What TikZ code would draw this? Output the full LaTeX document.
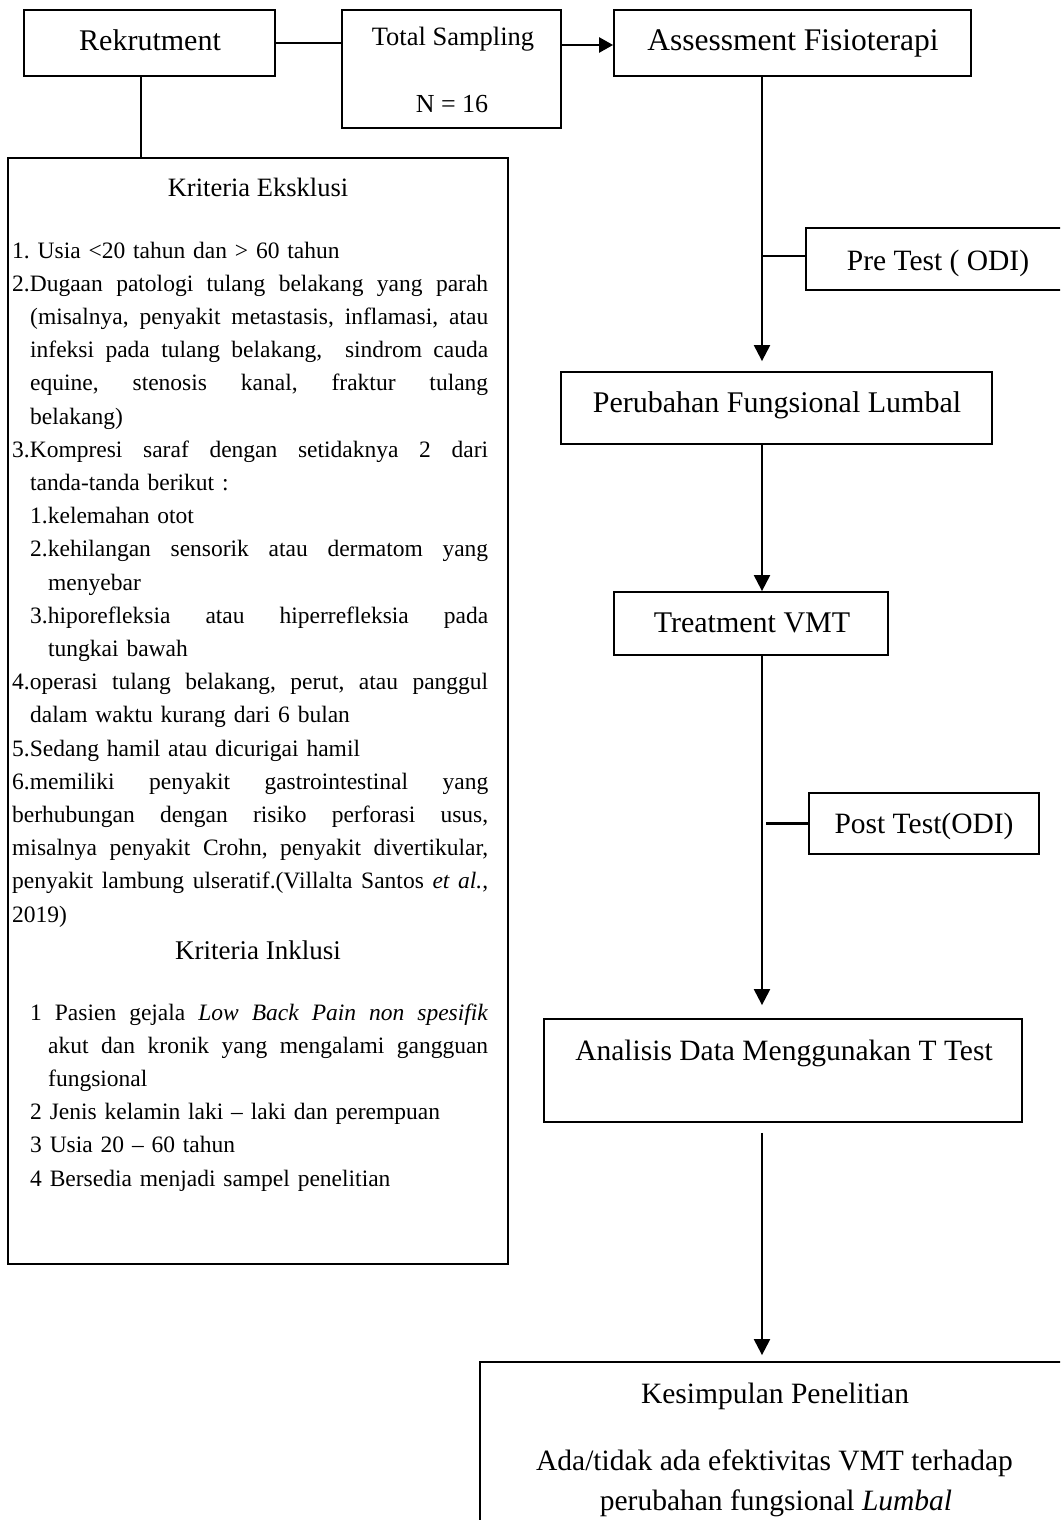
\documentclass[tikz,border=0pt]{standalone}
\usepackage{fontspec}
\setmainfont{Liberation Serif}
\usetikzlibrary{arrows.meta}
\newlength\listw
\newcommand\jl[2]{\hspace*{#1}\hbox to \dimexpr\listw-#1\relax{\spaceskip=0.25em plus 1fil\relax\xspaceskip=\spaceskip #2}}
\newcommand\rl[2]{\hspace*{#1}#2}
\tikzset{
  box/.style={draw, line width=1.8pt, inner sep=0pt},
  lbl/.style={inner sep=0pt, anchor=base, font=\fontsize{29.5pt}{34pt}\selectfont},
  body/.style={inner sep=0pt, anchor=base west, align=left, font=\frenchspacing\fontsize{23.5pt}{33.2pt}\selectfont},
  conn/.style={line width=2.2pt},
  arr/.style={conn, -{Triangle[width=16pt,length=16pt]}},
  toparr/.style={line width=2.4pt, -{Triangle[width=15pt,length=14pt]}}
}
\begin{document}
\begin{tikzpicture}[x=1pt, y=-1pt]
\useasboundingbox (0,0) rectangle (1060,1520);
\clip (0,0) rectangle (1060,1520);
% boxes
\node[box, minimum width=251pt, minimum height=66pt] (rek) at (149.5,43) {};
\node[box, minimum width=219pt, minimum height=118pt] (tot) at (451.5,69) {};
\node[box, minimum width=357pt, minimum height=66pt] (ass) at (792.5,43) {};
\node[box, minimum width=500pt, minimum height=1106pt] (eks) at (258,711) {};
\node[box, minimum width=270pt, minimum height=62pt] (pre) at (941,259) {};
\node[box, minimum width=431pt, minimum height=72pt] (per) at (776.5,408) {};
\node[box, minimum width=274pt, minimum height=63pt] (trt) at (751,623.5) {};
\node[box, minimum width=230pt, minimum height=61pt] (post) at (924,823.5) {};
\node[box, minimum width=478pt, minimum height=103pt] (ana) at (783,1070.5) {};
\node[box, minimum width=600pt, minimum height=180pt] (kes) at (780,1452) {};
% labels
\node[lbl, font=\fontsize{30pt}{34pt}\selectfont] (trek) at (150,51) {Rekrutment};
\node[lbl, font=\fontsize{26.5pt}{30pt}\selectfont] (ttot) at (453,46) {Total Sampling};
\node[lbl, font=\fontsize{26pt}{30pt}\selectfont] (tn) at (452,112) {N = 16};
\node[lbl, font=\fontsize{31.5pt}{36pt}\selectfont] (tass) at (793,51) {Assessment Fisioterapi};
\node[lbl, font=\fontsize{26.5pt}{30pt}\selectfont] (tke) at (258,196) {Kriteria Eksklusi};
\node[lbl, font=\fontsize{27pt}{30pt}\selectfont] (tki) at (258,959) {Kriteria Inklusi};
\node[lbl] (tpre) at (938,270) {Pre Test ( ODI)};
\node[lbl, font=\fontsize{30pt}{34pt}\selectfont] (tper) at (777,412) {Perubahan Fungsional Lumbal};
\node[lbl, font=\fontsize{30pt}{34pt}\selectfont] (ttrt) at (752,632) {Treatment VMT};
\node[lbl] (tpost) at (924,833) {Post Test(ODI)};
\node[lbl] (tana) at (784,1060) {Analisis Data Menggunakan T Test};
\node[lbl] (tkes) at (775,1403) {Kesimpulan Penelitian};
\node[lbl] (tkes2) at (774.5,1470) {Ada/tidak ada efektivitas VMT terhadap};
\node[lbl] (tkes3) at (776,1510) {perubahan fungsional \textit{Lumbal}};
% exclusion list
\node[body, text width=476pt] (lex) at (12,258) {\setlength{\listw}{476pt}%
\rl{0pt}{1. Usia <20 tahun dan > 60 tahun}\\
\jl{0pt}{2.Dugaan patologi tulang belakang yang parah}\\
\jl{18pt}{(misalnya, penyakit metastasis, inflamasi, atau}\\
\jl{18pt}{infeksi pada tulang belakang,\ \ sindrom cauda}\\
\jl{18pt}{equine, stenosis kanal, fraktur tulang}\\
\rl{18pt}{belakang)}\\
\jl{0pt}{3.Kompresi saraf dengan setidaknya 2 dari}\\
\rl{18pt}{tanda-tanda berikut :}\\
\rl{18pt}{1.kelemahan otot}\\
\jl{18pt}{2.kehilangan sensorik atau dermatom yang}\\
\rl{36pt}{menyebar}\\
\jl{18pt}{3.hiporefleksia atau hiperrefleksia pada}\\
\rl{36pt}{tungkai bawah}\\
\jl{0pt}{4.operasi tulang belakang, perut, atau panggul}\\
\rl{18pt}{dalam waktu kurang dari 6 bulan}\\
\rl{0pt}{5.Sedang hamil atau dicurigai hamil}\\
\jl{0pt}{6.memiliki penyakit gastrointestinal yang}\\
\jl{0pt}{berhubungan dengan risiko perforasi usus,}\\
\jl{0pt}{misalnya penyakit Crohn, penyakit divertikular,}\\
\jl{0pt}{penyakit lambung ulseratif.(Villalta Santos \textit{et al.},}\\
\rl{0pt}{2019)}};
% inclusion list
\node[body, text width=458pt] (lin) at (30,1020) {\setlength{\listw}{458pt}%
\jl{0pt}{1 Pasien gejala \textit{Low Back Pain non spesifik}}\\
\jl{18pt}{akut dan kronik yang mengalami gangguan}\\
\rl{18pt}{fungsional}\\
\rl{0pt}{2 Jenis kelamin laki -- laki dan perempuan}\\
\rl{0pt}{3 Usia 20 -- 60 tahun}\\
\rl{0pt}{4 Bersedia menjadi sampel penelitian}};
% connectors
\coordinate (tx) at (762,0);
\coordinate (rx) at (141,0);
\draw[conn] (rek.east) -- (rek.east -| tot.west);
\draw[toparr] ([yshift=-2pt]ass.west -| tot.east) -- ([yshift=-2pt]ass.west);
\draw[conn] (rek.south -| rx) -- (eks.north -| rx);
\draw[arr, shorten >=10pt] (ass.south -| tx) -- (per.north -| tx);
\draw[conn] ([yshift=3pt]pre.west) -- ([yshift=3pt]pre.west -| tx);
\draw[arr] (per.south -| tx) -- (trt.north -| tx);
\draw[arr, shorten >=13pt] (trt.south -| tx) -- (ana.north -| tx);
\draw[conn, shorten >=4pt] (post.west) -- (post.west -| tx);
\draw[arr, shorten <=10pt, shorten >=6pt] (ana.south -| tx) -- (kes.north -| tx);
\end{tikzpicture}
\end{document}
